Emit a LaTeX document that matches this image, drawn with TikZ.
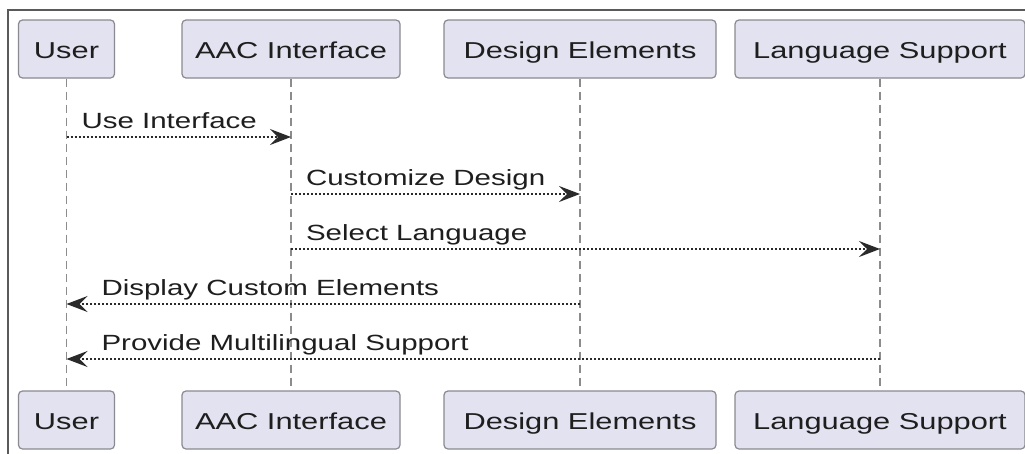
\documentclass[tikz,border=0pt]{standalone}
\usepackage{fontspec}
\setmainfont{Liberation Sans}[FakeStretch=1.34]
\usetikzlibrary{arrows.meta}

\definecolor{boxfill}{HTML}{E2E2F0}
\definecolor{boxline}{HTML}{8A8A90}
\definecolor{lifegray}{HTML}{8C8C8C}
\definecolor{msgline}{HTML}{2A2A2A}
\definecolor{framegray}{HTML}{5A5A5A}
\definecolor{textgray}{HTML}{1E1E1E}

\begin{document}
\begin{tikzpicture}[x=1pt,y=-1pt,
  actor/.style={draw=boxline,fill=boxfill,rounded corners=4pt,line width=1.2pt,
    minimum height=58pt,inner xsep=6pt,text height=18pt,text depth=0pt,
    text=textgray,font=\fontsize{23}{26}\selectfont},
  life/.style={draw=lifegray,line width=1.2pt,dash pattern=on 8pt off 5pt},
  msg/.style={draw=msgline,line width=1.4pt,dash pattern=on 2pt off 2pt,
    -{Stealth[length=21pt,width=16pt,inset=8pt]}},
  lbl/.style={anchor=base west,text=textgray,font=\fontsize{22}{25}\selectfont}]

\useasboundingbox (0,0) rectangle (1025,453);
\clip (0,0) rectangle (1025,453);

% frame
\draw[framegray,line width=1.5pt] (8,10) rectangle (1040,470);

% participants
\node[actor,minimum width=96pt]  (usrT) at (66.5,49) {User};
\node[actor,minimum width=218pt] (aacT) at (291,49)  {AAC Interface};
\node[actor,minimum width=272pt] (desT) at (580,49)  {Design Elements};
\node[actor,minimum width=290pt] (lngT) at (880,49)  {Language Support};

\node[actor,minimum width=96pt]  (usrB) at (66.5,420) {User};
\node[actor,minimum width=218pt] (aacB) at (291,420)  {AAC Interface};
\node[actor,minimum width=272pt] (desB) at (580,420)  {Design Elements};
\node[actor,minimum width=290pt] (lngB) at (880,420)  {Language Support};

% lifelines
\draw[life] (usrT.south) -- (usrB.north);
\draw[life] (aacT.south) -- (aacB.north);
\draw[life] (desT.south) -- (desB.north);
\draw[life] (lngT.south) -- (lngB.north);

% message ends
\coordinate (m1a) at (usrT.south |- 0,137);
\coordinate (m1b) at (aacT.south |- 0,137);
\coordinate (m2a) at (aacT.south |- 0,194);
\coordinate (m2b) at (desT.south |- 0,194);
\coordinate (m3a) at (aacT.south |- 0,249);
\coordinate (m3b) at (lngT.south |- 0,249);
\coordinate (m4a) at (desT.south |- 0,304);
\coordinate (m4b) at (usrT.south |- 0,304);
\coordinate (m5a) at (lngT.south |- 0,359);
\coordinate (m5b) at (usrT.south |- 0,359);

% messages
\draw[msg] (m1a) -- (m1b) node[lbl,pos=0,xshift=11pt,yshift=9pt] {Use Interface};
\draw[msg] (m2a) -- (m2b) node[lbl,pos=0,xshift=11pt,yshift=9pt] {Customize Design};
\draw[msg] (m3a) -- (m3b) node[lbl,pos=0,xshift=11pt,yshift=9pt] {Select Language};
\draw[msg] (m4a) -- (m4b) node[lbl,pos=1,xshift=31pt,yshift=9pt] {Display Custom Elements};
\draw[msg] (m5a) -- (m5b) node[lbl,pos=1,xshift=31pt,yshift=9pt] {Provide Multilingual Support};

\end{tikzpicture}
\end{document}
